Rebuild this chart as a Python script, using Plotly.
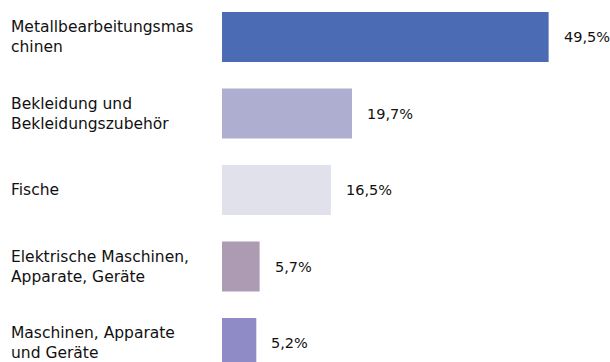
import plotly.graph_objects as go

# Categories (with manual line breaks) and their shares in percent
categories = [
    "Metallbearbeitungsmas<br>chinen",
    "Bekleidung und<br>Bekleidungszubehör",
    "Fische",
    "Elektrische Maschinen,<br>Apparate, Geräte",
    "Maschinen, Apparate<br>und Geräte",
]
shares = [49.5, 19.7, 16.5, 5.7, 5.2]

bar_colors = ["#4b6bb4", "#aeaed0", "#e1e1ec", "#ad9bb4", "#8f8bc6"]

FONT = "DejaVu Sans"
positions = list(range(len(categories)))

fig = go.Figure(
    go.Bar(
        x=shares,
        y=positions,
        orientation="h",
        marker=dict(color=bar_colors, line=dict(width=0)),
        hoverinfo="skip",
    )
)

def fmt(v):
    return f"{v:.1f}".replace(".", ",") + "%"

annotations = []
for pos, cat, val in zip(positions, categories, shares):
    # category label at the left edge
    annotations.append(dict(
        x=0, xref="paper", xshift=-213, y=pos, yref="y",
        text=cat, showarrow=False, xanchor="left", yanchor="middle",
        align="left", font=dict(family=FONT, size=15.5, color="#111111"),
    ))
    # value label right of the bar
    annotations.append(dict(
        x=val, xref="x", xshift=13, y=pos, yref="y",
        text=fmt(val), showarrow=False, xanchor="left", yanchor="middle",
        font=dict(family=FONT, size=14.5, color="#111111"),
    ))

fig.update_layout(
    width=610, height=362,
    margin=dict(l=222, r=0, t=0, b=0),
    paper_bgcolor="white", plot_bgcolor="white",
    bargap=0.346,
    showlegend=False,
    xaxis=dict(range=[0, 58.8], visible=False, fixedrange=True),
    yaxis=dict(range=[4.248, -0.484], visible=False, fixedrange=True),
    annotations=annotations,
)

fig.write_html("out.html")
